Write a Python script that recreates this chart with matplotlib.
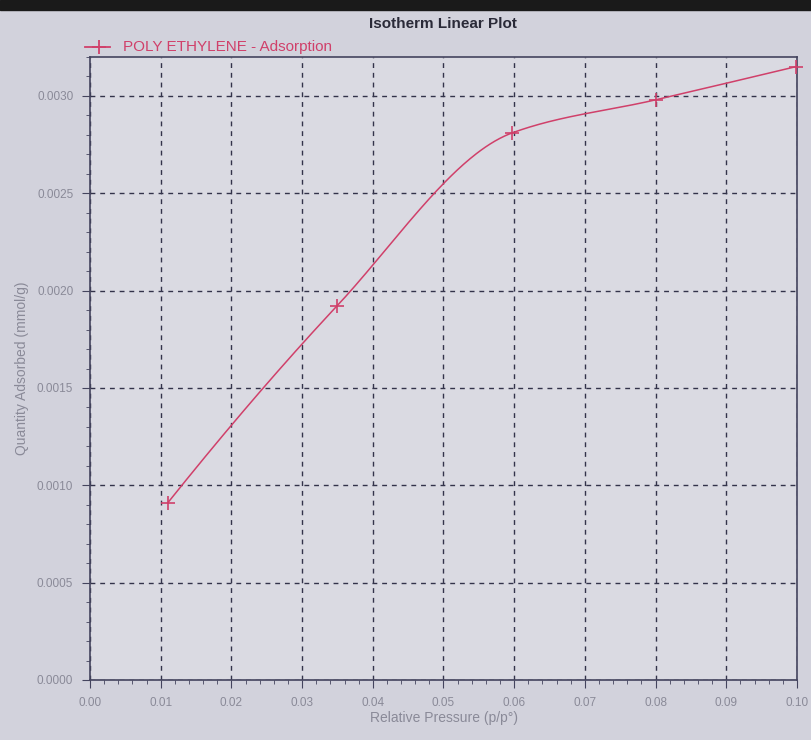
import numpy as np
import matplotlib
matplotlib.use("Agg")
import matplotlib.pyplot as plt
from matplotlib.ticker import MultipleLocator, FormatStrFormatter
from matplotlib.patches import Rectangle

# data
relative_pressure = [0.0110, 0.0349, 0.0597, 0.0800, 0.0998]
quantity_adsorbed = [0.00091, 0.00192, 0.00281, 0.00298, 0.00315]
series_label = "POLY ETHYLENE - Adsorption"
title = "Isotherm Linear Plot"
xlabel = "Relative Pressure (p/p°)"
ylabel = "Quantity Adsorbed (mmol/g)"


def pchip_curve(x, y, n=400):
    x = np.asarray(x, float)
    y = np.asarray(y, float)
    h = np.diff(x)
    delta = np.diff(y) / h
    k = len(x)
    d = np.zeros(k)
    for i in range(1, k - 1):
        if delta[i - 1] * delta[i] > 0:
            w1 = 2 * h[i] + h[i - 1]
            w2 = h[i] + 2 * h[i - 1]
            d[i] = (w1 + w2) / (w1 / delta[i - 1] + w2 / delta[i])
    d[0] = ((2 * h[0] + h[1]) * delta[0] - h[0] * delta[1]) / (h[0] + h[1])
    if np.sign(d[0]) != np.sign(delta[0]):
        d[0] = 0
    d[-1] = ((2 * h[-1] + h[-2]) * delta[-1] - h[-1] * delta[-2]) / (h[-1] + h[-2])
    if np.sign(d[-1]) != np.sign(delta[-1]):
        d[-1] = 0
    xs = np.linspace(x[0], x[-1], n)
    ys = np.empty_like(xs)
    for j, xv in enumerate(xs):
        i = int(np.clip(np.searchsorted(x, xv) - 1, 0, k - 2))
        t = (xv - x[i]) / h[i]
        h00 = 2 * t ** 3 - 3 * t ** 2 + 1
        h10 = t ** 3 - 2 * t ** 2 + t
        h01 = -2 * t ** 3 + 3 * t ** 2
        h11 = t ** 3 - t ** 2
        ys[j] = h00 * y[i] + h10 * h[i] * d[i] + h01 * y[i + 1] + h11 * h[i] * d[i + 1]
    return xs, ys


bg = "#dadae2"
grid_c = "#33334a"
red = "#d0406a"
txt_gray = "#8a8a98"
axis_c = "#44445e"

fig = plt.figure(figsize=(8.11, 7.40), dpi=100, facecolor="#d2d2dc")
fig.patches.append(Rectangle((0, 1 - 10 / 740), 1, 10 / 740, transform=fig.transFigure,
                             color="#1a1a1a", zorder=0))
ax = fig.add_axes([90 / 811, 1 - 680 / 740, (797 - 90) / 811, (680 - 57) / 740])
ax.set_facecolor(bg)

xs, ys = pchip_curve(relative_pressure, quantity_adsorbed)
ax.plot(xs, ys, color=red, lw=1.1, zorder=3)
ax.plot(relative_pressure, quantity_adsorbed, linestyle="none", marker="+",
        markersize=10, mew=1.2, color=red, zorder=4, clip_on=False)

ax.set_xlim(0, 0.10)
ax.set_ylim(0, 0.0032)
ax.xaxis.set_major_locator(MultipleLocator(0.01))
ax.xaxis.set_minor_locator(MultipleLocator(0.002))
ax.yaxis.set_major_locator(MultipleLocator(0.0005))
ax.yaxis.set_minor_locator(MultipleLocator(0.0001))
ax.xaxis.set_major_formatter(FormatStrFormatter("%.2f"))
ax.yaxis.set_major_formatter(FormatStrFormatter("%.4f"))

ax.grid(True, which="major", linestyle=(0, (3.5, 3.5)), color=grid_c, lw=1.0)
for s in ax.spines.values():
    s.set_color(axis_c)
    s.set_linewidth(1.2)

ax.tick_params(which="major", direction="out", length=6, color=axis_c,
               labelsize=8.5, labelcolor=txt_gray, pad=6)
ax.tick_params(which="minor", direction="out", length=3, color=axis_c)
for lab in ax.get_xticklabels() + ax.get_yticklabels():
    lab.set_family("Liberation Sans")

ax.set_xlabel(xlabel, color=txt_gray, fontsize=10, family="Liberation Sans", labelpad=2)
ax.set_ylabel(ylabel, color=txt_gray, fontsize=10, family="Liberation Sans", labelpad=6)

fig.text(443 / 811, 1 - 24 / 740, title, ha="center", va="center",
         fontsize=11, fontweight="bold", color="#2a2a38", family="Liberation Sans")

# legend above plot area
ly = 1 + 10 / 623
ax.plot([-0.0007, 0.0028], [ly, ly], transform=ax.get_xaxis_transform(),
        color=red, lw=1.3, clip_on=False)
ax.plot([0.0013], [ly], transform=ax.get_xaxis_transform(), marker="+",
        markersize=10, mew=1.3, color=red, clip_on=False)
ax.text(0.0046, ly, series_label, transform=ax.get_xaxis_transform(),
        ha="left", va="center", fontsize=11, color=red, family="Liberation Sans")

fig.savefig("out.png", dpi=100, facecolor=fig.get_facecolor())
